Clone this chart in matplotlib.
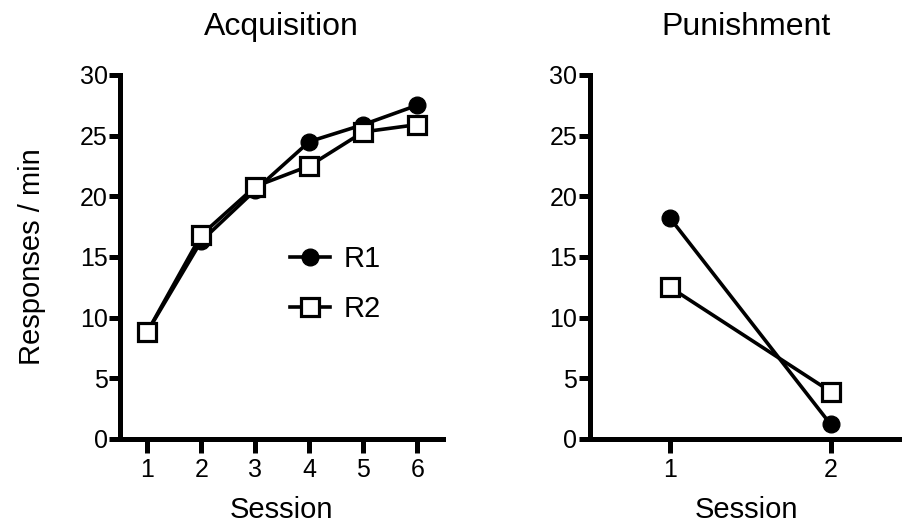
import matplotlib
matplotlib.use("Agg")
import matplotlib.pyplot as plt
import numpy as np

# ----------------------------------------------------------------------------------------------------------------------
#  DATA
# ----------------------------------------------------------------------------------------------------------------------
acq_sessions   = [1, 2, 3, 4, 5, 6]
acq_r1         = [8.8, 16.3, 20.5, 24.5, 25.9, 27.5]
acq_r2         = [8.8, 16.8, 20.8, 22.5, 25.3, 25.9]

pun_sessions   = [1, 2]
pun_r1         = [18.2, 1.2]
pun_r2         = [12.5, 3.9]

y_ticks        = [0, 5, 10, 15, 20, 25, 30]

plt.rcParams['font.family'] = ['Liberation Sans', 'DejaVu Sans']

fig = plt.figure(figsize=(9.03, 5.27), dpi=100)
ax1 = fig.add_axes([0.133, 0.167, 0.358, 0.691])
ax2 = fig.add_axes([0.653, 0.167, 0.347, 0.691])

line_w   = 2.6
spine_w  = 3.6
m_size   = 12


def style_axis(ax, xlim):
    for side in ['top', 'right']:
        ax.spines[side].set_visible(False)
    for side in ['left', 'bottom']:
        ax.spines[side].set_linewidth(spine_w)
    ax.set_ylim(0, 30)
    ax.set_xlim(*xlim)
    ax.set_yticks(y_ticks)
    ax.tick_params(axis='y', length=8, width=spine_w, labelsize=18, pad=1)
    ax.tick_params(axis='x', length=10, width=spine_w, labelsize=18, pad=4)
    ax.set_xlabel('Session', fontsize=21, labelpad=10)


# Acquisition
ax1.plot(acq_sessions, acq_r1, color='black', linewidth=line_w, marker='o',
         markersize=m_size, markerfacecolor='black', label='R1', clip_on=False)
ax1.plot(acq_sessions, acq_r2, color='black', linewidth=line_w, marker='s',
         markersize=m_size + 0.5, markerfacecolor='white', markeredgewidth=2.3,
         label='R2', clip_on=False)
style_axis(ax1, (0.5, 6.48))
ax1.set_xticks(acq_sessions)
ax1.set_title('Acquisition', fontsize=23, pad=29)
ax1.set_ylabel('Responses / min', fontsize=21, labelpad=24)
ax1.legend(loc='center left', bbox_to_anchor=(0.445, 0.425), frameon=False,
           fontsize=21, handlelength=1.37, handletextpad=0.45, labelspacing=0.75)

# Punishment
ax2.plot(pun_sessions, pun_r1, color='black', linewidth=line_w, marker='o',
         markersize=m_size, markerfacecolor='black', clip_on=False)
ax2.plot(pun_sessions, pun_r2, color='black', linewidth=line_w, marker='s',
         markersize=m_size + 0.5, markerfacecolor='white', markeredgewidth=2.3,
         clip_on=False)
style_axis(ax2, (0.5, 2.45))
ax2.set_xticks(pun_sessions)
ax2.set_title('Punishment', fontsize=23, pad=29)

fig.savefig('out.png', dpi=100)
